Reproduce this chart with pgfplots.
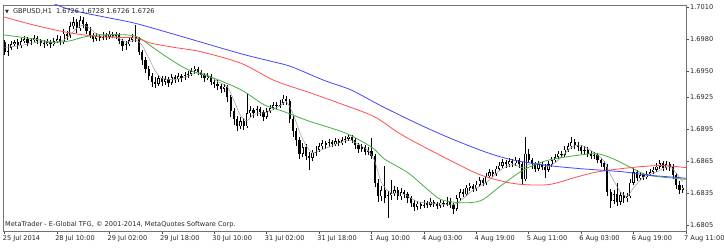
\documentclass[border=0pt]{standalone}
\usepackage{fontspec}
\setmainfont{DejaVu Sans}
\usepackage{pgfplots}
\usepackage{pgfplotstable}
\pgfplotsset{compat=1.18}
\definecolor{mablue}{RGB}{70,70,255}
\definecolor{mared}{RGB}{255,80,80}
\definecolor{magreen}{RGB}{70,175,70}
\pgfplotstableread{
i o h l c
0 1.6977 1.6979 1.6965 1.6968
1 1.6968 1.6975 1.6964 1.6972
2 1.6972 1.6978 1.6970 1.6975
3 1.6975 1.6979 1.6973 1.6977
4 1.6977 1.6980 1.6971 1.6974
5 1.6974 1.6981 1.6972 1.6978
6 1.6978 1.6983 1.6976 1.6980
7 1.6980 1.6982 1.6973 1.6976
8 1.6976 1.6981 1.6974 1.6979
9 1.6979 1.6984 1.6977 1.6981
10 1.6981 1.6983 1.6975 1.6978
11 1.6978 1.6980 1.6973 1.6976
12 1.6976 1.6979 1.6972 1.6975
13 1.6975 1.6980 1.6973 1.6977
14 1.6977 1.6979 1.6972 1.6975
15 1.6975 1.6981 1.6973 1.6978
16 1.6978 1.6984 1.6976 1.6980
17 1.6980 1.6983 1.6974 1.6977
18 1.6977 1.6989 1.6975 1.6985
19 1.6985 1.6988 1.6979 1.6983
20 1.6983 1.6996 1.6981 1.6992
21 1.6992 1.7001 1.6989 1.6996
22 1.6996 1.6999 1.6986 1.6990
23 1.6990 1.7002 1.6988 1.6998
24 1.6998 1.7001 1.6990 1.6994
25 1.6994 1.6996 1.6985 1.6988
26 1.6988 1.6991 1.6981 1.6984
27 1.6984 1.6986 1.6977 1.6980
28 1.6980 1.6986 1.6978 1.6983
29 1.6983 1.6985 1.6978 1.6981
30 1.6981 1.6987 1.6979 1.6984
31 1.6984 1.6986 1.6979 1.6982
32 1.6982 1.6988 1.6980 1.6985
33 1.6985 1.6987 1.6981 1.6983
34 1.6983 1.6987 1.6980 1.6984
35 1.6984 1.6986 1.6975 1.6978
36 1.6978 1.6980 1.6969 1.6973
37 1.6973 1.6978 1.6970 1.6975
38 1.6975 1.6982 1.6973 1.6979
39 1.6979 1.6985 1.6977 1.6982
40 1.6982 1.6993 1.6977 1.6980
41 1.6980 1.6982 1.6965 1.6968
42 1.6968 1.6970 1.6956 1.6960
43 1.6960 1.6963 1.6948 1.6952
44 1.6952 1.6955 1.6941 1.6945
45 1.6945 1.6948 1.6935 1.6940
46 1.6940 1.6944 1.6934 1.6938
47 1.6938 1.6946 1.6936 1.6943
48 1.6943 1.6945 1.6936 1.6940
49 1.6940 1.6945 1.6937 1.6942
50 1.6942 1.6944 1.6935 1.6939
51 1.6939 1.6947 1.6937 1.6944
52 1.6944 1.6946 1.6939 1.6942
53 1.6942 1.6948 1.6940 1.6945
54 1.6945 1.6947 1.6940 1.6943
55 1.6943 1.6949 1.6941 1.6946
56 1.6946 1.6950 1.6943 1.6947
57 1.6947 1.6953 1.6945 1.6950
58 1.6950 1.6955 1.6947 1.6952
59 1.6952 1.6954 1.6946 1.6949
60 1.6949 1.6951 1.6943 1.6946
61 1.6946 1.6948 1.6940 1.6943
62 1.6943 1.6948 1.6941 1.6945
63 1.6945 1.6947 1.6937 1.6940
64 1.6940 1.6943 1.6934 1.6938
65 1.6938 1.6941 1.6932 1.6936
66 1.6936 1.6938 1.6929 1.6933
67 1.6933 1.6938 1.6930 1.6935
68 1.6935 1.6937 1.6921 1.6925
69 1.6925 1.6927 1.6907 1.6912
70 1.6912 1.6915 1.6899 1.6905
71 1.6905 1.6908 1.6893 1.6898
72 1.6898 1.6907 1.6895 1.6903
73 1.6903 1.6906 1.6894 1.6898
74 1.6898 1.6929 1.6896 1.6910
75 1.6910 1.6917 1.6907 1.6913
76 1.6913 1.6915 1.6906 1.6910
77 1.6910 1.6917 1.6908 1.6914
78 1.6914 1.6916 1.6908 1.6911
79 1.6911 1.6913 1.6903 1.6907
80 1.6907 1.6915 1.6905 1.6912
81 1.6912 1.6918 1.6910 1.6915
82 1.6915 1.6921 1.6913 1.6918
83 1.6918 1.6921 1.6914 1.6917
84 1.6917 1.6923 1.6915 1.6920
85 1.6920 1.6927 1.6918 1.6924
86 1.6924 1.6926 1.6918 1.6922
87 1.6922 1.6924 1.6901 1.6905
88 1.6905 1.6908 1.6888 1.6893
89 1.6893 1.6896 1.6879 1.6885
90 1.6885 1.6888 1.6867 1.6872
91 1.6872 1.6882 1.6869 1.6878
92 1.6878 1.6881 1.6866 1.6870
93 1.6870 1.6874 1.6857 1.6868
94 1.6868 1.6876 1.6865 1.6873
95 1.6873 1.6879 1.6870 1.6876
96 1.6876 1.6882 1.6874 1.6879
97 1.6879 1.6885 1.6877 1.6882
98 1.6882 1.6884 1.6877 1.6880
99 1.6880 1.6886 1.6878 1.6883
100 1.6883 1.6885 1.6878 1.6881
101 1.6881 1.6887 1.6879 1.6884
102 1.6884 1.6886 1.6879 1.6882
103 1.6882 1.6888 1.6880 1.6885
104 1.6885 1.6889 1.6882 1.6886
105 1.6886 1.6891 1.6884 1.6888
106 1.6888 1.6890 1.6882 1.6885
107 1.6885 1.6887 1.6877 1.6880
108 1.6880 1.6882 1.6873 1.6877
109 1.6877 1.6881 1.6874 1.6878
110 1.6878 1.6880 1.6871 1.6874
111 1.6874 1.6878 1.6871 1.6875
112 1.6875 1.6887 1.6867 1.6870
113 1.6870 1.6872 1.6841 1.6845
114 1.6845 1.6848 1.6827 1.6832
115 1.6832 1.6842 1.6828 1.6838
116 1.6838 1.6861 1.6826 1.6830
117 1.6830 1.6837 1.6812 1.6833
118 1.6833 1.6847 1.6829 1.6835
119 1.6835 1.6842 1.6832 1.6838
120 1.6838 1.6841 1.6829 1.6832
121 1.6832 1.6840 1.6829 1.6836
122 1.6836 1.6838 1.6830 1.6834
123 1.6834 1.6836 1.6826 1.6830
124 1.6830 1.6832 1.6822 1.6826
125 1.6826 1.6829 1.6818 1.6822
126 1.6822 1.6828 1.6819 1.6825
127 1.6825 1.6827 1.6820 1.6823
128 1.6823 1.6829 1.6821 1.6826
129 1.6826 1.6828 1.6821 1.6824
130 1.6824 1.6830 1.6822 1.6827
131 1.6827 1.6829 1.6822 1.6825
132 1.6825 1.6827 1.6820 1.6823
133 1.6823 1.6829 1.6821 1.6826
134 1.6826 1.6828 1.6822 1.6825
135 1.6825 1.6831 1.6823 1.6828
136 1.6828 1.6830 1.6821 1.6824
137 1.6824 1.6826 1.6815 1.6820
138 1.6820 1.6833 1.6818 1.6830
139 1.6830 1.6839 1.6828 1.6836
140 1.6836 1.6839 1.6831 1.6834
141 1.6834 1.6843 1.6832 1.6840
142 1.6840 1.6845 1.6837 1.6842
143 1.6842 1.6844 1.6836 1.6839
144 1.6839 1.6846 1.6837 1.6843
145 1.6843 1.6850 1.6841 1.6847
146 1.6847 1.6849 1.6842 1.6845
147 1.6845 1.6854 1.6843 1.6851
148 1.6851 1.6858 1.6849 1.6855
149 1.6855 1.6857 1.6850 1.6853
150 1.6853 1.6861 1.6851 1.6858
151 1.6858 1.6864 1.6856 1.6861
152 1.6861 1.6867 1.6859 1.6864
153 1.6864 1.6866 1.6859 1.6862
154 1.6862 1.6868 1.6860 1.6865
155 1.6865 1.6867 1.6860 1.6863
156 1.6863 1.6869 1.6861 1.6866
157 1.6866 1.6868 1.6859 1.6862
158 1.6862 1.6864 1.6843 1.6848
159 1.6848 1.6888 1.6846 1.6872
160 1.6872 1.6877 1.6863 1.6866
161 1.6866 1.6868 1.6858 1.6862
162 1.6862 1.6864 1.6855 1.6858
163 1.6858 1.6865 1.6856 1.6862
164 1.6862 1.6864 1.6857 1.6860
165 1.6860 1.6862 1.6849 1.6857
166 1.6857 1.6865 1.6855 1.6862
167 1.6862 1.6869 1.6860 1.6866
168 1.6866 1.6872 1.6864 1.6869
169 1.6869 1.6875 1.6867 1.6872
170 1.6872 1.6875 1.6868 1.6871
171 1.6871 1.6879 1.6869 1.6876
172 1.6876 1.6882 1.6874 1.6879
173 1.6879 1.6888 1.6877 1.6883
174 1.6883 1.6886 1.6877 1.6880
175 1.6880 1.6883 1.6875 1.6878
176 1.6878 1.6880 1.6872 1.6875
177 1.6875 1.6879 1.6872 1.6876
178 1.6876 1.6878 1.6869 1.6872
179 1.6872 1.6875 1.6867 1.6870
180 1.6870 1.6874 1.6867 1.6871
181 1.6871 1.6873 1.6863 1.6866
182 1.6866 1.6868 1.6860 1.6863
183 1.6863 1.6865 1.6857 1.6860
184 1.6860 1.6862 1.6832 1.6836
185 1.6836 1.6839 1.6821 1.6828
186 1.6828 1.6838 1.6825 1.6834
187 1.6834 1.6845 1.6823 1.6827
188 1.6827 1.6836 1.6824 1.6833
189 1.6833 1.6836 1.6826 1.6830
190 1.6830 1.6835 1.6827 1.6832
191 1.6832 1.6848 1.6830 1.6845
192 1.6845 1.6859 1.6843 1.6855
193 1.6855 1.6857 1.6846 1.6849
194 1.6849 1.6855 1.6847 1.6852
195 1.6852 1.6854 1.6847 1.6850
196 1.6850 1.6856 1.6848 1.6853
197 1.6853 1.6858 1.6851 1.6855
198 1.6855 1.6860 1.6853 1.6857
199 1.6857 1.6863 1.6855 1.6860
200 1.6860 1.6866 1.6858 1.6863
201 1.6863 1.6865 1.6856 1.6859
202 1.6859 1.6865 1.6857 1.6862
203 1.6862 1.6864 1.6856 1.6860
204 1.6860 1.6862 1.6848 1.6852
205 1.6852 1.6854 1.6839 1.6843
206 1.6843 1.6846 1.6834 1.6838
207 1.6838 1.6843 1.6835 1.6840
}\bars
\begin{document}
\begin{tikzpicture}
\path[use as bounding box, fill=white] (-3pt,-17pt) rectangle (721pt,231pt);
\begin{axis}[
  at={(0,0)}, anchor=south west,
  scale only axis, width=683pt, height=226pt,
  xmin=-0.5, xmax=208, ymin=1.67994, ymax=1.7012,
  axis line style={black!55, line width=0.8pt},
  xtick={0,16,...,208},
  xticklabels={25 Jul 2014,28 Jul 10:00,29 Jul 02:00,29 Jul 18:00,30 Jul 10:00,31 Jul 02:00,31 Jul 18:00,1 Aug 10:00,4 Aug 03:00,4 Aug 19:00,5 Aug 11:00,6 Aug 03:00,6 Aug 19:00,7 Aug 11:00},
  ytick={1.6805,1.6835,1.6865,1.6895,1.6925,1.6950,1.6980,1.7010},
  yticklabels={1.6805,1.6835,1.6865,1.6895,1.6925,1.6950,1.6980,1.7010},
  xtick pos=left, ytick pos=right, yticklabel pos=right,
  tick align=outside, major tick length=3pt,
  tick style={black!70, line width=0.6pt},
  every tick label/.append style={font=\fontsize{6.6}{7}\selectfont, text=black!85},
  xticklabel style={anchor=north west, inner sep=0pt, xshift=-2pt, yshift=-1pt},
  yticklabel style={anchor=west, inner sep=0pt, xshift=1pt},
]
% wicks
\addplot[draw=none, mark=none, no markers, forget plot,
  error bars/.cd, y dir=plus, y explicit, error mark=none,
  error bar style={draw=black, line width=0.6pt, line cap=butt}]
  table[x=i, y=l, y error expr={\thisrow{h}-\thisrow{l}}] {\bars};
% bodies
\addplot[draw=none, mark=none, no markers, forget plot,
  error bars/.cd, y dir=plus, y explicit, error mark=none,
  error bar style={draw=black, line width=2.2pt, line cap=butt}]
  table[x=i, y expr={min(\thisrow{o},\thisrow{c})}, y error expr={max(abs(\thisrow{c}-\thisrow{o}),0.00008)}] {\bars};
% hollow bull bodies
\addplot[draw=none, mark=none, no markers, forget plot,
  restrict expr to domain={\thisrow{c}-\thisrow{o}}{0.00018:1},
  error bars/.cd, y dir=plus, y explicit, error mark=none,
  error bar style={draw=white, line width=0.9pt, line cap=butt}]
  table[x=i, y expr={\thisrow{o}+0.00006}, y error expr={\thisrow{c}-\thisrow{o}-0.00012}] {\bars};
% fast MA (gray)
\addplot[gray!80, line width=0.5pt, smooth, tension=0.4] coordinates {
(0,1.6972)(5,1.6974)(10,1.6977)(15,1.6977)(18,1.6979)(20,1.6984)(22,1.6990)(24,1.6993)(26,1.6990)(28,1.6985)(31,1.6983)(34,1.6982)(37,1.6977)(40,1.6979)(42,1.6974)(44,1.6962)(46,1.6950)(48,1.6943)(52,1.6942)(56,1.6945)(59,1.6949)(62,1.6946)(65,1.6940)(68,1.6935)(70,1.6922)(72,1.6908)(74,1.6903)(76,1.6909)(80,1.6911)(84,1.6917)(86,1.6921)(88,1.6910)(90,1.6893)(92,1.6880)(94,1.6873)(97,1.6876)(101,1.6881)(105,1.6885)(108,1.6881)(111,1.6875)(113,1.6865)(115,1.6845)(118,1.6835)(122,1.6834)(126,1.6827)(132,1.6825)(137,1.6824)(140,1.6830)(143,1.6838)(147,1.6845)(151,1.6856)(155,1.6862)(158,1.6859)(160,1.6862)(163,1.6863)(166,1.6860)(169,1.6866)(173,1.6878)(176,1.6880)(180,1.6873)(183,1.6865)(185,1.6852)(188,1.6836)(190,1.6832)(192,1.6840)(195,1.6850)(199,1.6855)(203,1.6860)(206,1.6850)(207,1.6846)};
% green MA
\addplot[magreen, line width=0.8pt, smooth, tension=0.5] coordinates {
(-0.5,1.6984)(9.1,1.6980)(14.3,1.6977)(19.5,1.6978)(24.4,1.6982)(29.6,1.6984)(39.6,1.6983)(44.8,1.6973)(50,1.6962)(56.1,1.6951)(64,1.6943)(72.3,1.6932)(79.3,1.6918)(85,1.6912)(92.7,1.6903)(103.7,1.6892)(110,1.6882)(113,1.6876)(116,1.6867)(123.2,1.6854)(129.3,1.6838)(133.2,1.6829)(139.3,1.6826)(145.4,1.6828)(151.5,1.6842)(158.5,1.6857)(165.9,1.6866)(175.9,1.6871)(181.1,1.6872)(186,1.6867)(191.2,1.6859)(196.3,1.6852)(204.3,1.6849)(208,1.6848)};
% red MA
\addplot[mared, line width=0.8pt, smooth, tension=0.5] coordinates {
(-0.5,1.7001)(9.1,1.6993)(19.5,1.6986)(29.6,1.6982)(39.6,1.6981)(44.8,1.6976)(52,1.6972)(60,1.6968)(72.3,1.6957)(82.3,1.6941)(92.7,1.6930)(102.7,1.6919)(112.8,1.6907)(120.1,1.6892)(127.1,1.6880)(137.2,1.6864)(145.4,1.6852)(155.5,1.6844)(165.9,1.6843)(174.4,1.6850)(181,1.6855)(191,1.6859)(200.3,1.6861)(208,1.6859)};
% blue MA
\addplot[mablue, line width=0.8pt, smooth, tension=0.5] coordinates {
(10,1.7020)(19.5,1.7008)(30,1.7001)(39.6,1.6995)(50,1.6986)(60,1.6977)(72.3,1.6966)(81.4,1.6959)(87.5,1.6954)(97.6,1.6941)(105.8,1.6932)(115,1.6917)(125.6,1.6901)(135,1.6888)(143.9,1.6877)(149.4,1.6871)(155.5,1.6866)(165.9,1.6861)(175.9,1.6858)(189,1.6855)(196.3,1.6852)(204.3,1.6850)(208,1.6849)};
\node[anchor=west, inner sep=0pt, font=\fontsize{6.6}{7}\selectfont, text=black!85] at ([xshift=2pt,yshift=-6pt]rel axis cs:0,1) {{\fontsize{5}{5}\selectfont ▼}\hspace{4pt}GBPUSD,H1\hspace{4pt}1.6726 1.6728 1.6726 1.6726};
\node[anchor=west, inner sep=0pt, font=\fontsize{6.6}{7}\selectfont, text=black!85] at ([xshift=2pt,yshift=6pt]rel axis cs:0,0) {MetaTrader - E-Global TFG, © 2001-2014, MetaQuotes Software Corp.};
\end{axis}
\end{tikzpicture}
\end{document}
